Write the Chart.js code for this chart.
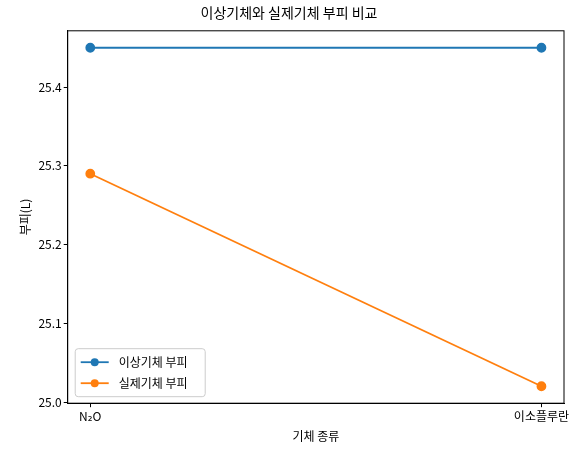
<!DOCTYPE html><html><head><meta charset="utf-8">
<script src="https://cdn.jsdelivr.net/npm/chart.js@4"></script>
<style>body{margin:0;background:#fff}#w{width:582px;height:454px}</style></head><body><div id="w"><canvas id="c"></canvas></div>
<script>
const categories = ["N₂O", "이소플루란"];
const idealVolume = [25.45, 25.45];
const realVolume = [25.29, 25.02];
const yTicks = [25.0, 25.1, 25.2, 25.3, 25.4];
const F = "'Noto Sans CJK KR', 'DejaVu Sans', sans-serif";
Chart.defaults.font.family = F;
Chart.defaults.color = '#000';
const legendPlugin = {
  id: 'lg',
  afterDraw(ch) {
    const ctx = ch.ctx, a = ch.chartArea;
    const x = a.left + 7, y = a.bottom - 55, w = 130, h = 48;
    ctx.save();
    ctx.fillStyle = 'rgba(255,255,255,0.8)'; ctx.strokeStyle = '#ccc'; ctx.lineWidth = 1;
    ctx.beginPath(); ctx.roundRect(x + .5, y + .5, w, h, 3); ctx.fill(); ctx.stroke();
    ch.data.datasets.forEach((d, i) => {
      const cy = y + 14 + i * 21;
      ctx.strokeStyle = d.borderColor; ctx.lineWidth = 1.8;
      ctx.beginPath(); ctx.moveTo(x + 6, cy); ctx.lineTo(x + 34, cy); ctx.stroke();
      ctx.fillStyle = d.borderColor; ctx.beginPath(); ctx.arc(x + 20, cy, 4, 0, 7); ctx.fill();
      ctx.fillStyle = '#000'; ctx.font = '12px ' + F; ctx.textBaseline = 'middle';
      ctx.fillText(d.label, x + 44, cy);
    });
    ctx.restore();
  }
};
new Chart(document.getElementById('c'), {
  type: 'line',
  data: {
    datasets: [
      { label: '이상기체 부피', data: idealVolume.map((v, i) => ({x: i, y: v})), borderColor: '#1f77b4', backgroundColor: '#1f77b4', pointRadius: 4, borderWidth: 1.8 },
      { label: '실제기체 부피', data: realVolume.map((v, i) => ({x: i, y: v})), borderColor: '#ff7f0e', backgroundColor: '#ff7f0e', pointRadius: 4, borderWidth: 1.8 }
    ]
  },
  options: {
    animation: false, responsive: true, maintainAspectRatio: false,
    layout: { padding: { left: 14, right: 18, top: 0, bottom: 6 } },
    plugins: {
      legend: { display: false }, tooltip: { enabled: false },
      title: { display: true, text: '이상기체와 실제기체 부피 비교', font: { size: 14, weight: 'normal' }, padding: { top: 4, bottom: 10 } }
    },
    scales: {
      x: { type: 'linear', min: -0.05, max: 1.05,
        afterBuildTicks: s => { s.ticks = categories.map((c, i) => ({ value: i })); },
        ticks: { callback: v => categories[v], font: { size: 12 }, maxRotation: 0, padding: 2 },
        grid: { display: true, drawOnChartArea: false, drawTicks: true, tickLength: 4, color: '#000' }, border: { color: '#000' },
        title: { display: true, text: '기체 종류', font: { size: 12 } } },
      y: { min: 24.9985, max: 25.4715,
        afterBuildTicks: s => { s.ticks = yTicks.map(v => ({ value: v })); },
        ticks: { callback: v => v.toFixed(1), font: { size: 12 }, padding: 2 },
        grid: { display: true, drawOnChartArea: false, tickLength: 4, color: '#000' }, border: { color: '#000' },
        title: { display: true, text: '부피(L)', font: { size: 12 } } }
    }
  },
  plugins: [legendPlugin, { id: 'box', afterDraw(ch) { const a = ch.chartArea, c = ch.ctx; c.save(); c.strokeStyle = '#000'; c.lineWidth = 1; c.strokeRect(a.left, a.top, a.right - a.left, a.bottom - a.top); c.restore(); } }]
});
</script></body></html>
